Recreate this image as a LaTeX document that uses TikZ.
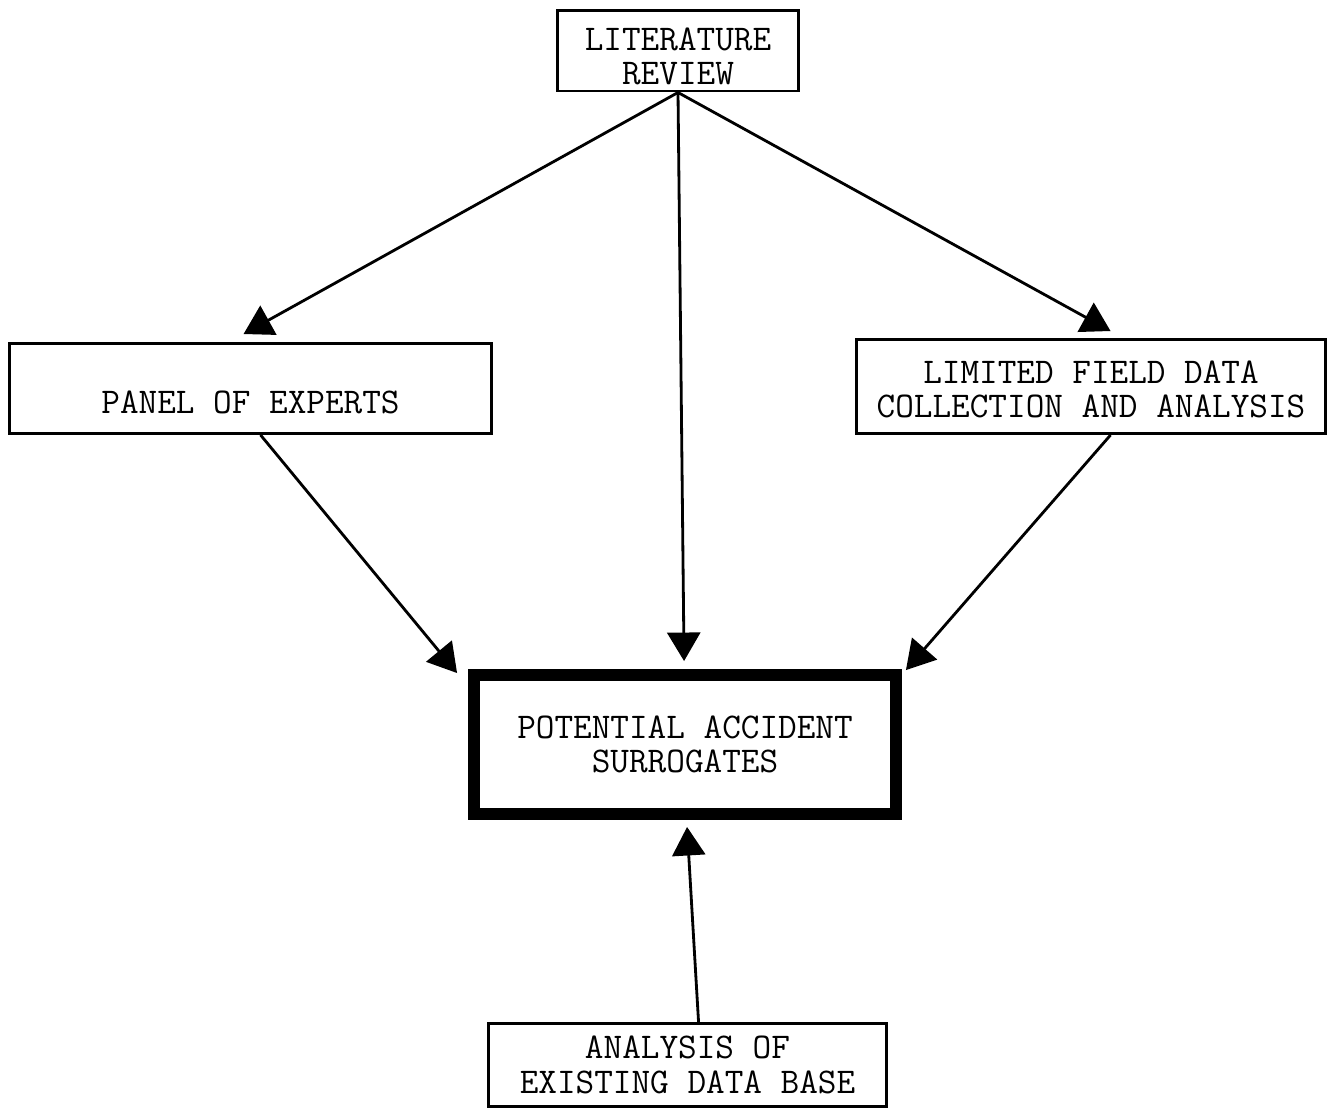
\documentclass[tikz,border=0pt]{standalone}
\usepackage{fontspec}
\usetikzlibrary{arrows.meta,calc}
\newcommand{\boxfont}{\ttfamily\addfontfeatures{FakeBold=2.2}\fontsize{20.6}{19.6}\selectfont}
\begin{document}
\begin{tikzpicture}[x=0.02cm,y=-0.02cm,
  box/.style={draw=black,line width=1.7pt,inner sep=0pt,align=center,font=\boxfont},
  mainbox/.style={box,line width=6.8pt},
  conn/.style={draw=black,line width=1.6pt,
    -{Triangle[length=0.57cm,width=0.66cm]}}]
\useasboundingbox (0,0) rectangle (1331,1109);
\node[box,minimum width=4.84cm,minimum height=1.62cm] (lit) at (678,50.5) {\rule{0pt}{19.5pt}LITERATURE\\REVIEW};
\node[box,minimum width=9.64cm,minimum height=1.80cm] (panel) at (250.5,388.5) {\rule{0pt}{28.5pt}PANEL OF EXPERTS};
\node[box,minimum width=9.38cm,minimum height=1.88cm] (field) at (1091,386.5) {\rule{0pt}{16pt}LIMITED FIELD DATA\\COLLECTION AND ANALYSIS};
\node[mainbox,minimum width=8.44cm,minimum height=2.78cm] (pas) at (685,744.5) {POTENTIAL ACCIDENT\\SURROGATES};
\node[box,minimum width=7.96cm,minimum height=1.66cm] (aedb) at (687.5,1065) {ANALYSIS OF\\EXISTING DATA BASE};
\draw[conn] (lit.south) -- ($(panel.north west)+(235.5,-8)$);
\draw[conn] (lit.south) -- ($(pas.north west)+(216,-8)$);
\draw[conn] (lit.south) -- ($(field.north west)+(255.5,-7)$);
\draw[conn] ($(panel.south west)+(252.5,0)$) -- ($(pas.north west)+(-11,4)$);
\draw[conn] ($(field.south west)+(255.5,0)$) -- ($(pas.north east)+(4,1)$);
\draw[conn] ($(aedb.north west)+(211.5,0)$) -- ($(pas.south west)+(219,7)$);
\end{tikzpicture}
\end{document}
